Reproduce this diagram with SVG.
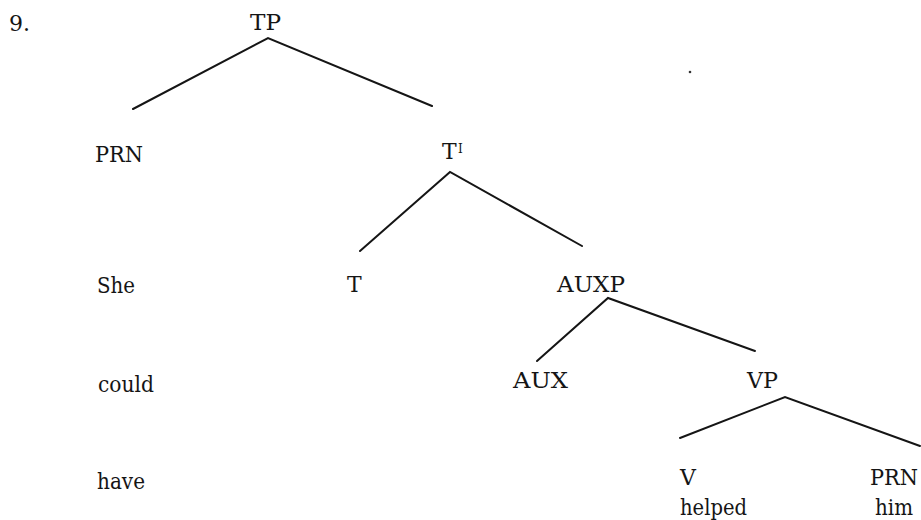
<svg xmlns="http://www.w3.org/2000/svg" width="921" height="520" viewBox="0 0 921 520">
  <style>
    .lbl { font-family: "DejaVu Serif", serif; font-size: 22px; fill: #151515; }
    .sup { font-family: "DejaVu Serif", serif; font-size: 12px; fill: #151515; }
    .edge { stroke: #151515; stroke-width: 2; fill: none; stroke-linecap: round; }
  </style>
  <rect width="921" height="520" fill="#ffffff"/>

  <!-- example number -->
  <text class="lbl" x="9" y="31">9.</text>

  <!-- tree branches -->
  <g id="connectors">
    <polyline class="edge" points="133,109 268,38 432,106"/>
    <polyline class="edge" points="360,251 450,172 582,246"/>
    <polyline class="edge" points="537,361 608,298 755,351"/>
    <polyline class="edge" points="680,438 785,397 920,446"/>
  </g>

  <!-- nodes -->
  <g id="node-tp"><text class="lbl" x="250" y="30" textLength="31" lengthAdjust="spacingAndGlyphs">TP</text></g>
  <g id="node-prn-spec"><text class="lbl" x="95" y="162" textLength="48" lengthAdjust="spacingAndGlyphs">PRN</text></g>
  <g id="node-tbar"><text class="lbl" x="442" y="159">T</text><text class="sup" x="458" y="153">I</text></g>
  <g id="node-t"><text class="lbl" x="347" y="292">T</text></g>
  <g id="node-auxp"><text class="lbl" x="557" y="292" textLength="68" lengthAdjust="spacingAndGlyphs">AUXP</text></g>
  <g id="node-aux"><text class="lbl" x="513" y="388" textLength="55" lengthAdjust="spacingAndGlyphs">AUX</text></g>
  <g id="node-vp"><text class="lbl" x="747" y="388" textLength="31" lengthAdjust="spacingAndGlyphs">VP</text></g>
  <g id="node-v">
    <text class="lbl" x="680" y="485">V</text>
    <text class="lbl" x="680" y="515" textLength="67" lengthAdjust="spacingAndGlyphs">helped</text>
  </g>
  <g id="node-prn-obj">
    <text class="lbl" x="870" y="485" textLength="48" lengthAdjust="spacingAndGlyphs">PRN</text>
    <text class="lbl" x="875" y="515" textLength="38" lengthAdjust="spacingAndGlyphs">him</text>
  </g>

  <!-- word column -->
  <g id="words">
    <text class="lbl" x="97" y="293" textLength="38" lengthAdjust="spacingAndGlyphs">She</text>
    <text class="lbl" x="98" y="392" textLength="56" lengthAdjust="spacingAndGlyphs">could</text>
    <text class="lbl" x="97" y="489" textLength="48" lengthAdjust="spacingAndGlyphs">have</text>
  </g>

  <!-- stray speck -->
  <circle cx="690" cy="72" r="1.3" fill="#333"/>
</svg>
